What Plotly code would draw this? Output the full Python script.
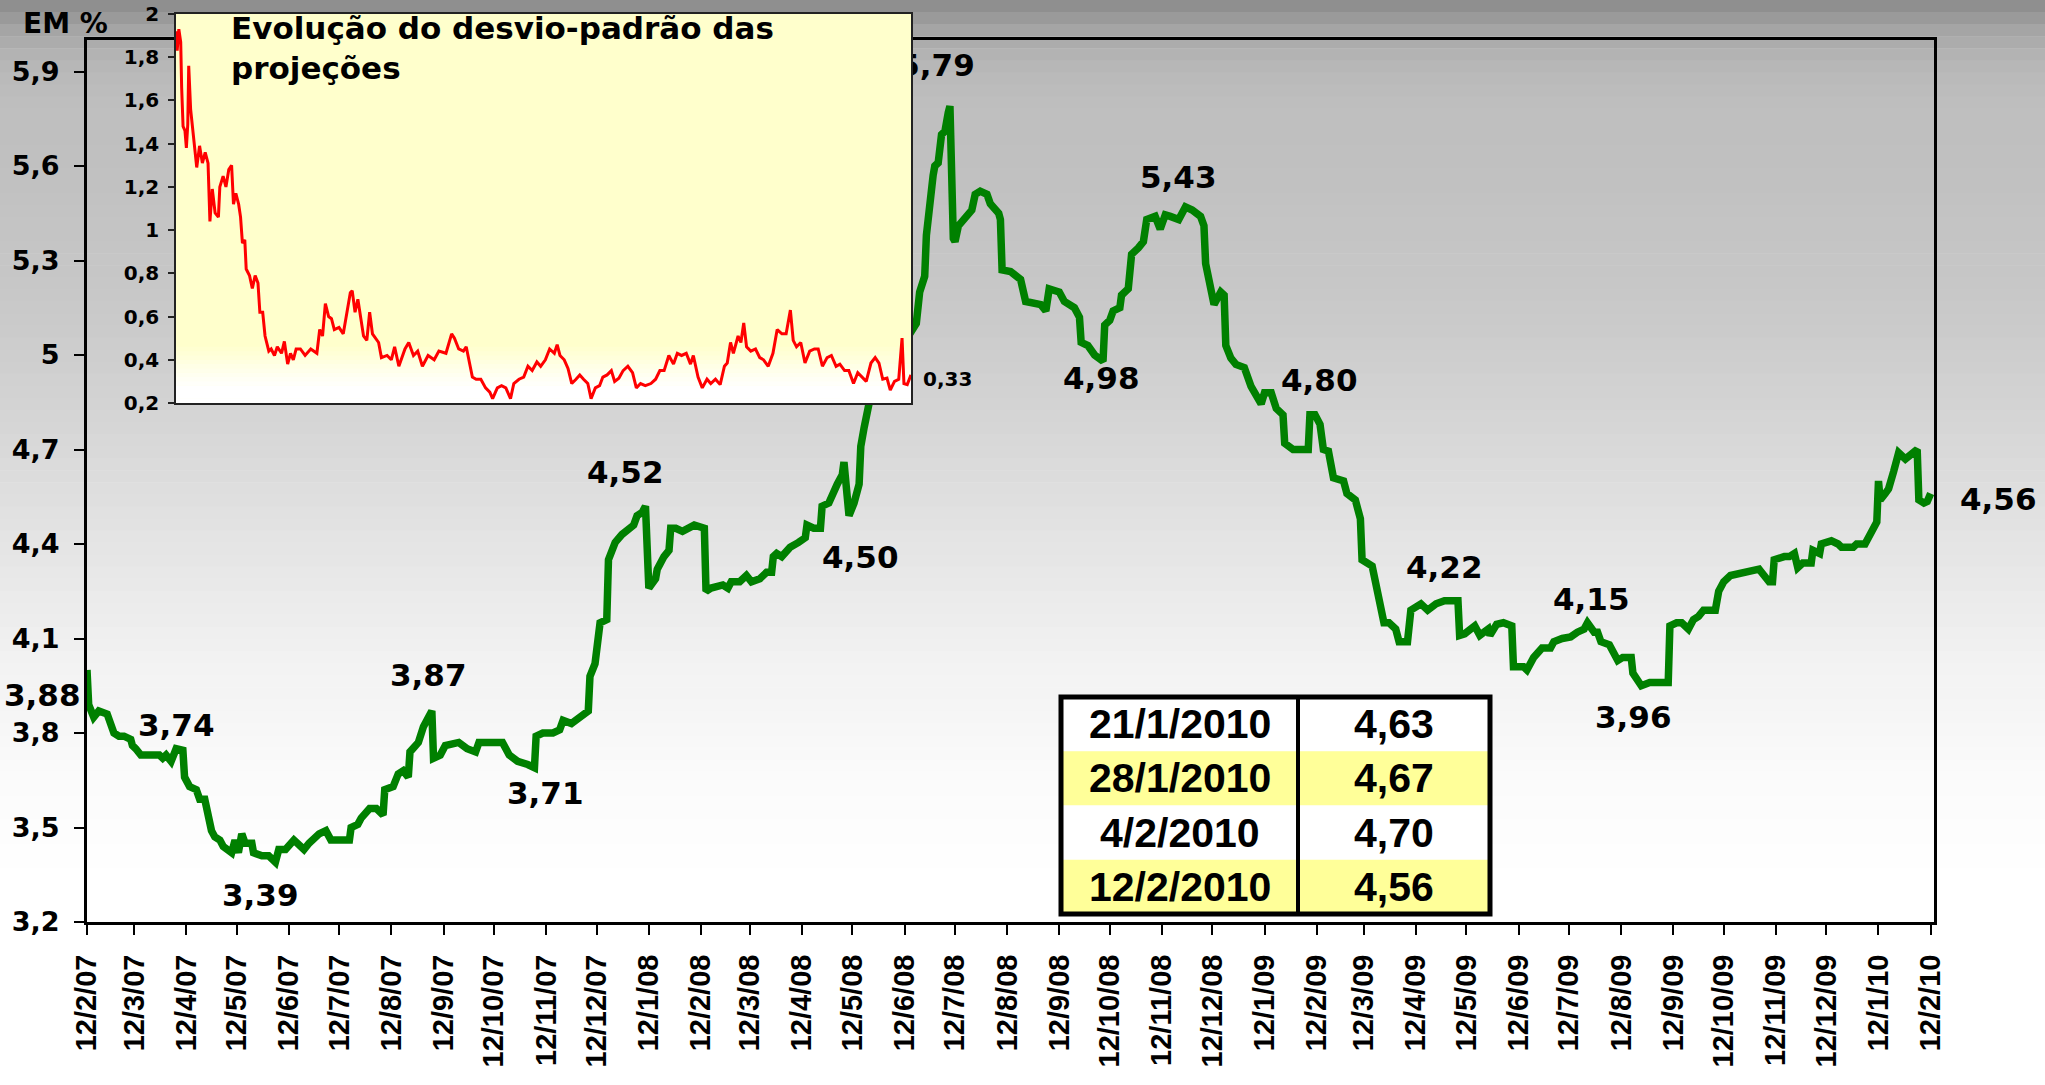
import numpy as np
import pandas as pd
import plotly.graph_objects as go

# ---------------- data ----------------
em_dates = [
    "2007-02-12", "2007-02-13", "2007-02-16", "2007-02-19", "2007-02-24", "2007-02-28", "2007-03-03",
    "2007-03-06", "2007-03-10", "2007-03-11", "2007-03-13", "2007-03-16", "2007-03-27", "2007-03-29",
    "2007-03-31", "2007-04-03", "2007-04-06", "2007-04-10", "2007-04-11", "2007-04-14", "2007-04-18",
    "2007-04-20", "2007-04-23", "2007-04-25", "2007-04-27", "2007-04-29", "2007-05-02", "2007-05-04",
    "2007-05-09", "2007-05-11", "2007-05-13", "2007-05-15", "2007-05-17", "2007-05-21", "2007-05-22",
    "2007-05-27", "2007-05-31", "2007-06-04", "2007-06-06", "2007-06-10", "2007-06-15", "2007-06-21",
    "2007-06-24", "2007-06-30", "2007-07-04", "2007-07-07", "2007-07-11", "2007-07-18", "2007-07-19",
    "2007-07-23", "2007-07-25", "2007-07-30", "2007-08-03", "2007-08-07", "2007-08-08", "2007-08-13",
    "2007-08-16", "2007-08-19", "2007-08-22", "2007-08-23", "2007-08-28", "2007-08-31", "2007-09-03",
    "2007-09-05", "2007-09-06", "2007-09-10", "2007-09-13", "2007-09-21", "2007-09-26", "2007-10-01",
    "2007-10-03", "2007-10-17", "2007-10-21", "2007-10-26", "2007-11-01", "2007-11-05", "2007-11-06",
    "2007-11-10", "2007-11-16", "2007-11-20", "2007-11-22", "2007-11-27", "2007-12-02", "2007-12-07",
    "2007-12-08", "2007-12-11", "2007-12-14", "2007-12-18", "2007-12-19", "2007-12-21", "2007-12-23",
    "2007-12-27", "2007-12-29", "2008-01-03", "2008-01-05", "2008-01-08", "2008-01-10", "2008-01-12",
    "2008-01-16", "2008-01-17", "2008-01-21", "2008-01-24", "2008-01-25", "2008-01-28", "2008-02-01",
    "2008-02-08", "2008-02-14", "2008-02-15", "2008-02-18", "2008-02-25", "2008-02-28", "2008-03-01",
    "2008-03-06", "2008-03-10", "2008-03-13", "2008-03-18", "2008-03-22", "2008-03-25", "2008-03-26",
    "2008-03-28", "2008-03-31", "2008-04-05", "2008-04-10", "2008-04-14", "2008-04-15", "2008-04-19",
    "2008-04-23", "2008-04-24", "2008-04-28", "2008-04-30", "2008-05-03", "2008-05-06", "2008-05-07",
    "2008-05-10", "2008-05-13", "2008-05-16", "2008-05-17", "2008-05-19", "2008-05-21", "2008-05-23",
    "2008-05-30", "2008-06-07", "2008-06-16", "2008-06-19", "2008-06-21", "2008-06-24", "2008-06-25",
    "2008-06-27", "2008-06-29", "2008-06-30", "2008-07-02", "2008-07-04", "2008-07-06", "2008-07-08",
    "2008-07-09", "2008-07-11", "2008-07-12", "2008-07-14", "2008-07-18", "2008-07-22", "2008-07-24",
    "2008-07-27", "2008-07-31", "2008-08-02", "2008-08-07", "2008-08-08", "2008-08-09", "2008-08-14",
    "2008-08-20", "2008-08-23", "2008-09-01", "2008-09-04", "2008-09-06", "2008-09-12", "2008-09-15",
    "2008-09-21", "2008-09-24", "2008-09-25", "2008-09-29", "2008-10-03", "2008-10-08", "2008-10-09",
    "2008-10-12", "2008-10-14", "2008-10-18", "2008-10-19", "2008-10-23", "2008-10-25", "2008-10-29",
    "2008-11-01", "2008-11-03", "2008-11-06", "2008-11-08", "2008-11-11", "2008-11-14", "2008-11-17",
    "2008-11-22", "2008-11-26", "2008-11-30", "2008-12-05", "2008-12-07", "2008-12-08", "2008-12-11",
    "2008-12-13", "2008-12-17", "2008-12-19", "2008-12-20", "2008-12-23", "2008-12-26", "2008-12-31",
    "2009-01-04", "2009-01-10", "2009-01-12", "2009-01-16", "2009-01-19", "2009-01-23", "2009-01-24",
    "2009-01-29", "2009-02-07", "2009-02-08", "2009-02-11", "2009-02-14", "2009-02-16", "2009-02-19",
    "2009-02-22", "2009-02-28", "2009-03-02", "2009-03-07", "2009-03-10", "2009-03-11", "2009-03-17",
    "2009-03-19", "2009-03-23", "2009-03-24", "2009-03-27", "2009-03-31", "2009-04-02", "2009-04-07",
    "2009-04-09", "2009-04-13", "2009-04-15", "2009-04-19", "2009-04-24", "2009-04-29", "2009-05-07",
    "2009-05-08", "2009-05-11", "2009-05-17", "2009-05-20", "2009-05-25", "2009-05-26", "2009-05-30",
    "2009-06-03", "2009-06-08", "2009-06-09", "2009-06-15", "2009-06-17", "2009-06-21", "2009-06-26",
    "2009-07-01", "2009-07-03", "2009-07-08", "2009-07-13", "2009-07-17", "2009-07-21", "2009-07-23",
    "2009-07-27", "2009-07-29", "2009-07-31", "2009-08-05", "2009-08-10", "2009-08-13", "2009-08-18",
    "2009-08-19", "2009-08-24", "2009-08-29", "2009-09-09", "2009-09-10", "2009-09-14", "2009-09-17",
    "2009-09-21", "2009-09-24", "2009-09-27", "2009-09-30", "2009-10-07", "2009-10-09", "2009-10-12",
    "2009-10-16", "2009-10-20", "2009-10-25", "2009-11-02", "2009-11-05", "2009-11-08", "2009-11-10",
    "2009-11-11", "2009-11-17", "2009-11-20", "2009-11-23", "2009-11-25", "2009-11-28", "2009-12-03",
    "2009-12-04", "2009-12-08", "2009-12-09", "2009-12-15", "2009-12-19", "2009-12-21", "2009-12-28",
    "2009-12-30", "2010-01-04", "2010-01-07", "2010-01-11", "2010-01-12", "2010-01-13", "2010-01-16",
    "2010-01-18", "2010-01-21", "2010-01-24", "2010-01-28", "2010-02-04", "2010-02-05", "2010-02-08",
    "2010-02-10", "2010-02-12",
]
em_values = [
    4.00, 3.89, 3.85, 3.87, 3.86, 3.80, 3.79,
    3.79, 3.78, 3.76, 3.75, 3.73, 3.73, 3.72,
    3.73, 3.71, 3.75, 3.745, 3.66, 3.63, 3.62,
    3.59, 3.59, 3.54, 3.49, 3.47, 3.46, 3.44,
    3.42, 3.46, 3.42, 3.48, 3.45, 3.45, 3.42,
    3.41, 3.41, 3.39, 3.43, 3.43, 3.46, 3.43,
    3.45, 3.48, 3.49, 3.46, 3.46, 3.46, 3.50,
    3.51, 3.53, 3.56, 3.56, 3.54, 3.62, 3.63,
    3.67, 3.68, 3.66, 3.74, 3.77, 3.82, 3.85,
    3.87, 3.72, 3.73, 3.76, 3.77, 3.75, 3.74,
    3.77, 3.77, 3.73, 3.71, 3.70, 3.69, 3.79,
    3.80, 3.80, 3.81, 3.84, 3.83, 3.85, 3.87,
    3.98, 4.02, 4.15, 4.16, 4.35, 4.38, 4.405,
    4.43, 4.44, 4.46, 4.49, 4.50, 4.52, 4.26,
    4.29, 4.32, 4.36, 4.38, 4.45, 4.45, 4.44,
    4.46, 4.45, 4.25, 4.26, 4.27, 4.26, 4.28,
    4.28, 4.30, 4.28, 4.29, 4.31, 4.31, 4.36,
    4.37, 4.36, 4.39, 4.405, 4.42, 4.46, 4.45,
    4.45, 4.52, 4.53, 4.56, 4.59, 4.62, 4.66,
    4.49, 4.53, 4.59, 4.71, 4.77, 4.84, 4.875,
    4.93, 5.00, 5.07, 5.10, 5.20, 5.25, 5.38,
    5.50, 5.57, 5.60, 5.61, 5.70, 5.71, 5.77,
    5.79, 5.37, 5.36, 5.41, 5.44, 5.46, 5.51,
    5.52, 5.51, 5.48, 5.45, 5.43, 5.27, 5.265,
    5.24, 5.17, 5.16, 5.14, 5.21, 5.20, 5.17,
    5.15, 5.12, 5.04, 5.03, 5.00, 4.98, 5.095,
    5.11, 5.14, 5.15, 5.19, 5.21, 5.32, 5.34,
    5.36, 5.43, 5.44, 5.44, 5.40, 5.445, 5.44,
    5.43, 5.47, 5.46, 5.44, 5.41, 5.29, 5.21,
    5.16, 5.20, 5.19, 5.03, 4.99, 4.97, 4.96,
    4.90, 4.845, 4.88, 4.88, 4.83, 4.81, 4.72,
    4.70, 4.70, 4.81, 4.81, 4.78, 4.70, 4.695,
    4.61, 4.60, 4.56, 4.54, 4.48, 4.35, 4.33,
    4.27, 4.18, 4.15, 4.15, 4.13, 4.09, 4.09,
    4.19, 4.20, 4.21, 4.19, 4.21, 4.22, 4.22,
    4.11, 4.115, 4.14, 4.11, 4.13, 4.11, 4.145,
    4.15, 4.14, 4.01, 4.01, 4.00, 4.04, 4.07,
    4.07, 4.09, 4.10, 4.105, 4.12, 4.13, 4.15,
    4.12, 4.12, 4.09, 4.08, 4.03, 4.04, 4.04,
    3.99, 3.95, 3.96, 3.96, 4.14, 4.15, 4.15,
    4.13, 4.16, 4.17, 4.19, 4.19, 4.25, 4.28,
    4.30, 4.305, 4.31, 4.32, 4.30, 4.28, 4.28,
    4.35, 4.36, 4.36, 4.37, 4.325, 4.34, 4.34,
    4.38, 4.37, 4.40, 4.41, 4.40, 4.39, 4.39,
    4.40, 4.40, 4.43, 4.47, 4.60, 4.54, 4.56,
    4.575, 4.63, 4.69, 4.67, 4.70, 4.54, 4.53,
    4.535, 4.56,
]

# inset: standard deviation of the projections (weekly index, no axis labels)
sd_week = [
    0, 0.25, 0.6, 1.0, 1.2, 1.5, 1.9, 2.2, 2.5, 2.7, 3.1, 3.7, 4.4, 5.0, 5.6, 6.2, 6.8, 7.2, 7.7, 8.3,
    9.0, 9.3, 10.0, 10.6, 11.2, 11.8, 12.2, 12.7, 13.3, 13.7, 14.1, 14.6, 14.9, 15.6, 16.2, 16.8, 17.4,
    17.8, 18.4, 18.9, 19.7, 20.2, 20.9, 21.5, 22.4, 23.0, 23.7, 24.3, 24.9, 25.5, 26.4, 27.4, 28.6, 29.9,
    30.5, 31.1, 31.7, 32.4, 33.0, 33.6, 34.6, 35.5, 36.1, 37.0, 37.4, 38.0, 38.6, 39.2, 39.8, 40.5, 41.1,
    41.7, 43.0, 43.6, 44.8, 45.7, 46.4, 47.3, 48.6, 49.4, 50.4, 51.3, 52.3, 53.5, 54.8, 55.8, 57.3, 58.5,
    59.1, 60.0, 61.0, 61.6, 62.3, 62.9, 63.7, 64.7, 65.7, 66.6, 67.2, 68.2, 69.1, 70.0, 71.0, 71.7, 72.8,
    73.8, 74.7, 75.6, 76.6, 77.4, 78.4, 79.3, 80.3, 80.9, 81.5, 82.4, 83.2, 84.0, 84.9, 85.7, 86.5, 87.4,
    88.1, 89.0, 89.9, 90.6, 91.5, 92.4, 93.1, 94.0, 94.9, 95.9, 96.9, 97.7, 98.6, 99.6, 100.8, 101.8,
    102.7, 103.6, 104.6, 105.6, 106.4, 107.3, 108.3, 109.2, 109.8, 110.8, 111.7, 112.7, 113.5, 114.5,
    115.5, 116.4, 117.0, 117.7, 118.3, 119.3, 119.9, 120.5, 121.1, 122.0, 123.0, 123.9, 124.7, 125.7,
    126.7, 127.6, 128.6, 129.5, 130.4, 131.0, 131.7, 132.6, 133.5, 134.5, 135.5, 136.3, 137.2, 138.2,
    139.1, 140.1, 140.9, 141.9, 142.8, 143.8, 144.7, 145.7, 146.5, 147.5, 148.4, 149.2, 150.0, 150.9,
    151.6, 152.5, 153.4, 154.1, 154.5, 155.2, 156.0,
]
sd_values = [
    1.92, 1.83, 1.93, 1.87, 1.66, 1.48, 1.46, 1.38, 1.49, 1.76, 1.56, 1.42, 1.29, 1.39, 1.31, 1.36, 1.31, 1.04, 1.19, 1.08,
    1.06, 1.20, 1.25, 1.20, 1.28, 1.30, 1.12, 1.17, 1.12, 1.06, 0.94, 0.955, 0.82, 0.79, 0.73, 0.79, 0.755,
    0.62, 0.62, 0.51, 0.44, 0.45, 0.42, 0.46, 0.43, 0.485, 0.38, 0.43, 0.40, 0.45, 0.45, 0.42, 0.45, 0.43,
    0.54, 0.51, 0.66, 0.60, 0.59, 0.54, 0.55, 0.52, 0.60, 0.71, 0.72, 0.62, 0.68, 0.585, 0.51, 0.49, 0.62,
    0.52, 0.48, 0.41, 0.42, 0.40, 0.46, 0.37, 0.45, 0.48, 0.42, 0.44, 0.37, 0.42, 0.40, 0.44, 0.43, 0.52,
    0.50, 0.45, 0.44, 0.46, 0.385, 0.32, 0.31, 0.31, 0.27, 0.25, 0.22, 0.27, 0.28, 0.27, 0.22, 0.29, 0.31,
    0.32, 0.37, 0.35, 0.39, 0.37, 0.40, 0.45, 0.43, 0.47, 0.42, 0.40, 0.36, 0.29, 0.31, 0.33, 0.31, 0.29,
    0.22, 0.27, 0.28, 0.32, 0.33, 0.35, 0.30, 0.315, 0.35, 0.37, 0.34, 0.27, 0.29, 0.28, 0.29, 0.31,
    0.35, 0.35, 0.42, 0.38, 0.43, 0.42, 0.43, 0.38, 0.42, 0.32, 0.27, 0.31, 0.29, 0.31,
    0.285, 0.37, 0.385, 0.48, 0.43, 0.51, 0.48, 0.57, 0.46, 0.44, 0.45, 0.41, 0.40, 0.37,
    0.43, 0.54, 0.52, 0.52, 0.63, 0.49, 0.46, 0.48, 0.385, 0.44, 0.45, 0.45, 0.37, 0.41,
    0.42, 0.37, 0.38, 0.35, 0.35, 0.29, 0.34, 0.32, 0.30, 0.385, 0.41, 0.385, 0.31, 0.315,
    0.26, 0.30, 0.31, 0.50, 0.29, 0.285, 0.33,
]

x_tick_labels = [
    "12/2/07", "12/3/07", "12/4/07", "12/5/07", "12/6/07", "12/7/07", "12/8/07", "12/9/07", "12/10/07",
    "12/11/07", "12/12/07", "12/1/08", "12/2/08", "12/3/08", "12/4/08", "12/5/08", "12/6/08", "12/7/08",
    "12/8/08", "12/9/08", "12/10/08", "12/11/08", "12/12/08", "12/1/09", "12/2/09", "12/3/09", "12/4/09",
    "12/5/09", "12/6/09", "12/7/09", "12/8/09", "12/9/09", "12/10/09", "12/11/09", "12/12/09", "12/1/10",
    "12/2/10",
]
y_tick_values = [3.2, 3.5, 3.8, 4.1, 4.4, 4.7, 5.0, 5.3, 5.6, 5.9]
y_tick_labels = ["3,2", "3,5", "3,8", "4,1", "4,4", "4,7", "5", "5,3", "5,6", "5,9"]
inset_tick_values = [0.2, 0.4, 0.6, 0.8, 1.0, 1.2, 1.4, 1.6, 1.8, 2.0]
inset_tick_labels = ["0,2", "0,4", "0,6", "0,8", "1", "1,2", "1,4", "1,6", "1,8", "2"]

label_texts = ["3,88", "3,74", "3,39", "3,87", "3,71", "4,52", "4,50", "4,98", "5,43", "4,80",
               "4,22", "4,15", "3,96", "4,56"]
label_dates = ["2007-02-12", "2007-04-06", "2007-06-04", "2007-09-05", "2007-11-05", "2008-01-10",
               "2008-05-10", "2008-10-08", "2008-11-22", "2009-02-09", "2009-04-29", "2009-07-23",
               "2009-08-29", "2010-02-12"]
label_values = [3.88, 3.74, 3.39, 3.87, 3.71, 4.52, 4.50, 4.98, 5.43, 4.80, 4.22, 4.15, 3.96, 4.56]
peak_text = ["5,79"]
peak_date = ["2008-07-01"]
peak_value = [5.79]

table_dates = ["21/1/2010", "28/1/2010", "4/2/2010", "12/2/2010"]
table_values = [4.63, 4.67, 4.70, 4.56]

inset_title = "Evolução do desvio-padrão das<br>projeções"
inset_last_label = "0,33"
y_title = "EM %"

# --------------- styling / layout -----------------
W, H = 2045, 1085
L, R, T, B = 87, 1934, 14, 922          # paper area in pixels
MAIN_TOP = 40
INSET = dict(x0=176, x1=911, y0=14, y1=403)

label_xshift = [-45, 0, -15, -3, 11, -20, 11, -2, 0, 8, 0, 4, -16, 68]
label_yshift = [13, 27, -33, 36, -32, 34, -44, -17, 43, 38, 34, 24, -34, -5]

BOLD_W = "DejaVu Sans"
ARIAL = "Liberation Sans, Arial, sans-serif"


def px_x(px):
    return (px - L) / (R - L)


def px_y(py):
    return (B - py) / (B - T)


fig = go.Figure()

fig.add_trace(go.Scatter(
    x=pd.to_datetime(em_dates), y=em_values, mode="lines",
    line=dict(color="#008000", width=7.5), xaxis="x", yaxis="y", hoverinfo="skip",
))
fig.add_trace(go.Scatter(
    x=pd.to_datetime(peak_date), y=peak_value, mode="markers+text", text=peak_text,
    textposition="top center", marker=dict(size=34, opacity=0),
    textfont=dict(family=BOLD_W, size=31, color="black", weight="bold"),
    cliponaxis=False, xaxis="x", yaxis="y", hoverinfo="skip",
))
fig.add_trace(go.Scatter(
    x=sd_week, y=sd_values, mode="lines", line=dict(color="#FF0000", width=3),
    xaxis="x2", yaxis="y2", hoverinfo="skip",
))

tick_dates = pd.to_datetime(x_tick_labels, format="%d/%m/%y")

fig.update_layout(
    template="none",
    width=W, height=H,
    margin=dict(l=L, r=W - R, t=T, b=H - B, pad=0, autoexpand=False),
    paper_bgcolor="white", plot_bgcolor="rgba(0,0,0,0)",
    showlegend=False, hovermode=False,
    xaxis=dict(
        type="date", domain=[0, 1], anchor="y", automargin=False,
        range=["2007-02-12", "2010-02-14"],
        tickmode="array", tickvals=tick_dates, ticktext=x_tick_labels,
        tickangle=-90, ticks="outside", ticklen=10, tickwidth=2, tickcolor="black",
        ticklabelstandoff=8,
        tickfont=dict(family=ARIAL, size=29, color="black", weight="bold"),
        showline=True, linewidth=3, linecolor="black", mirror=True,
        showgrid=False, zeroline=False,
    ),
    yaxis=dict(
        domain=[0, px_y(MAIN_TOP)], anchor="x", range=[3.2, 6.0], automargin=False,
        tickmode="array", tickvals=y_tick_values, ticktext=y_tick_labels,
        ticks="outside", ticklen=10, tickwidth=2, tickcolor="black",
        ticklabelstandoff=9,
        tickfont=dict(family=BOLD_W, size=27, color="black", weight="bold"),
        showline=True, linewidth=3, linecolor="black", mirror=True,
        showgrid=False, zeroline=False,
    ),
    xaxis2=dict(
        domain=[px_x(INSET["x0"]), px_x(INSET["x1"])], anchor="y2", range=[0, 156], automargin=False,
        showticklabels=False, ticks="", showgrid=False, zeroline=False,
        showline=True, linewidth=1.5, linecolor="#222222", mirror=True,
    ),
    yaxis2=dict(
        domain=[px_y(INSET["y1"]), px_y(INSET["y0"])], anchor="x2", range=[0.2, 2.0], automargin=False,
        tickmode="array", tickvals=inset_tick_values, ticktext=inset_tick_labels,
        ticks="outside", ticklen=6, tickwidth=1.5, tickcolor="#222222",
        ticklabelstandoff=5,
        tickfont=dict(family=BOLD_W, size=20, color="black", weight="bold"),
        showgrid=False, zeroline=False,
        showline=True, linewidth=1.5, linecolor="#222222", mirror=True,
    ),
)

shapes = []
# page / plot background gradient (gray at top to white at bottom)
grad_px = [0, 30, 60, 100, 180, 300, 420, 540, 660, 780, 880, 1085]
grad_gray = [138, 165, 182, 190, 193, 200, 213, 228, 242, 251, 255, 255]
n_bands = 90
edges = np.linspace(0, H, n_bands + 1)
for i in range(n_bands):
    mid = 0.5 * (edges[i] + edges[i + 1])
    g = int(round(np.interp(mid, grad_px, grad_gray)))
    shapes.append(dict(
        type="rect", xref="paper", yref="paper", layer="below",
        x0=px_x(-5), x1=px_x(W + 5), y0=px_y(edges[i + 1] + 0.6), y1=px_y(edges[i]),
        fillcolor=f"rgb({g},{g},{g})", line=dict(width=0),
    ))
# inset background (light yellow fading to white at the bottom)
shapes.append(dict(type="rect", xref="x2", yref="y2", layer="below", x0=0, x1=156, y0=0.2, y1=2.0,
                   fillcolor="#FFFFCC", line=dict(width=0)))
fade_edges = np.linspace(0.2, 0.5, 16)
for i in range(len(fade_edges) - 1):
    mid = 0.5 * (fade_edges[i] + fade_edges[i + 1])
    t = float(np.clip((mid - 0.27) / (0.47 - 0.27), 0, 1))
    b = int(round(255 - t * (255 - 204)))
    shapes.append(dict(type="rect", xref="x2", yref="y2", layer="below", x0=0, x1=156,
                       y0=fade_edges[i], y1=fade_edges[i + 1] + 0.002,
                       fillcolor=f"rgb(255,255,{b})", line=dict(width=0)))

# table
TAB = dict(x0=1061, x1=1490, xm=1298, y0=697, y1=914)
row_h = (TAB["y1"] - TAB["y0"]) / len(table_dates)
row_fill = ["white", "#FFFF99", "white", "#FFFF99"]
annotations = []
for i, (d, v) in enumerate(zip(table_dates, table_values)):
    top = TAB["y0"] + i * row_h
    shapes.append(dict(type="rect", xref="paper", yref="paper", layer="above",
                       x0=px_x(TAB["x0"]), x1=px_x(TAB["x1"]), y0=px_y(top + row_h), y1=px_y(top),
                       fillcolor=row_fill[i], line=dict(width=0)))
    cy = px_y(top + row_h / 2)
    annotations.append(dict(xref="paper", yref="paper", x=px_x((TAB["x0"] + TAB["xm"]) / 2), y=cy,
                            text=d, showarrow=False, xanchor="center", yanchor="middle",
                            font=dict(family=ARIAL, size=41, color="black", weight="bold")))
    annotations.append(dict(xref="paper", yref="paper", x=px_x((TAB["xm"] + TAB["x1"]) / 2), y=cy,
                            text=f"{v:.2f}".replace(".", ","), showarrow=False,
                            xanchor="center", yanchor="middle",
                            font=dict(family=ARIAL, size=41, color="black", weight="bold")))
shapes.append(dict(type="line", xref="paper", yref="paper", layer="above",
                   x0=px_x(TAB["xm"]), x1=px_x(TAB["xm"]), y0=px_y(TAB["y1"]), y1=px_y(TAB["y0"]),
                   line=dict(color="black", width=4)))
shapes.append(dict(type="rect", xref="paper", yref="paper", layer="above",
                   x0=px_x(TAB["x0"]), x1=px_x(TAB["x1"]), y0=px_y(TAB["y1"]), y1=px_y(TAB["y0"]),
                   fillcolor="rgba(0,0,0,0)", line=dict(color="black", width=5)))

# value labels on the main line
for txt, d, v, dx, dy in zip(label_texts, label_dates, label_values, label_xshift, label_yshift):
    annotations.append(dict(xref="x", yref="y", x=d, y=v, text=txt, showarrow=False,
                            xanchor="center", yanchor="middle", xshift=dx, yshift=dy,
                            font=dict(family=BOLD_W, size=31, color="black", weight="bold")))

# inset texts
annotations.append(dict(xref="paper", yref="paper", x=px_x(229), y=px_y(48), text=inset_title,
                        showarrow=False, xanchor="left", yanchor="middle", align="left",
                        font=dict(family=BOLD_W, size=31, color="black", weight="bold")))
annotations.append(dict(xref="x2", yref="y2", x=sd_week[-1], y=sd_values[-1], text=inset_last_label,
                        showarrow=False, xanchor="left", yanchor="middle", xshift=10, yshift=-4,
                        font=dict(family=BOLD_W, size=20, color="black", weight="bold")))
annotations.append(dict(xref="paper", yref="paper", x=px_x(65), y=px_y(24), text=y_title,
                        showarrow=False, xanchor="center", yanchor="middle",
                        font=dict(family=BOLD_W, size=28, color="black", weight="bold")))

fig.update_layout(shapes=shapes, annotations=annotations)

fig.write_html(
    "out.html",
    config={"displayModeBar": False},
    post_script="document.body.style.margin='0px';document.body.style.overflow='hidden';",
)
